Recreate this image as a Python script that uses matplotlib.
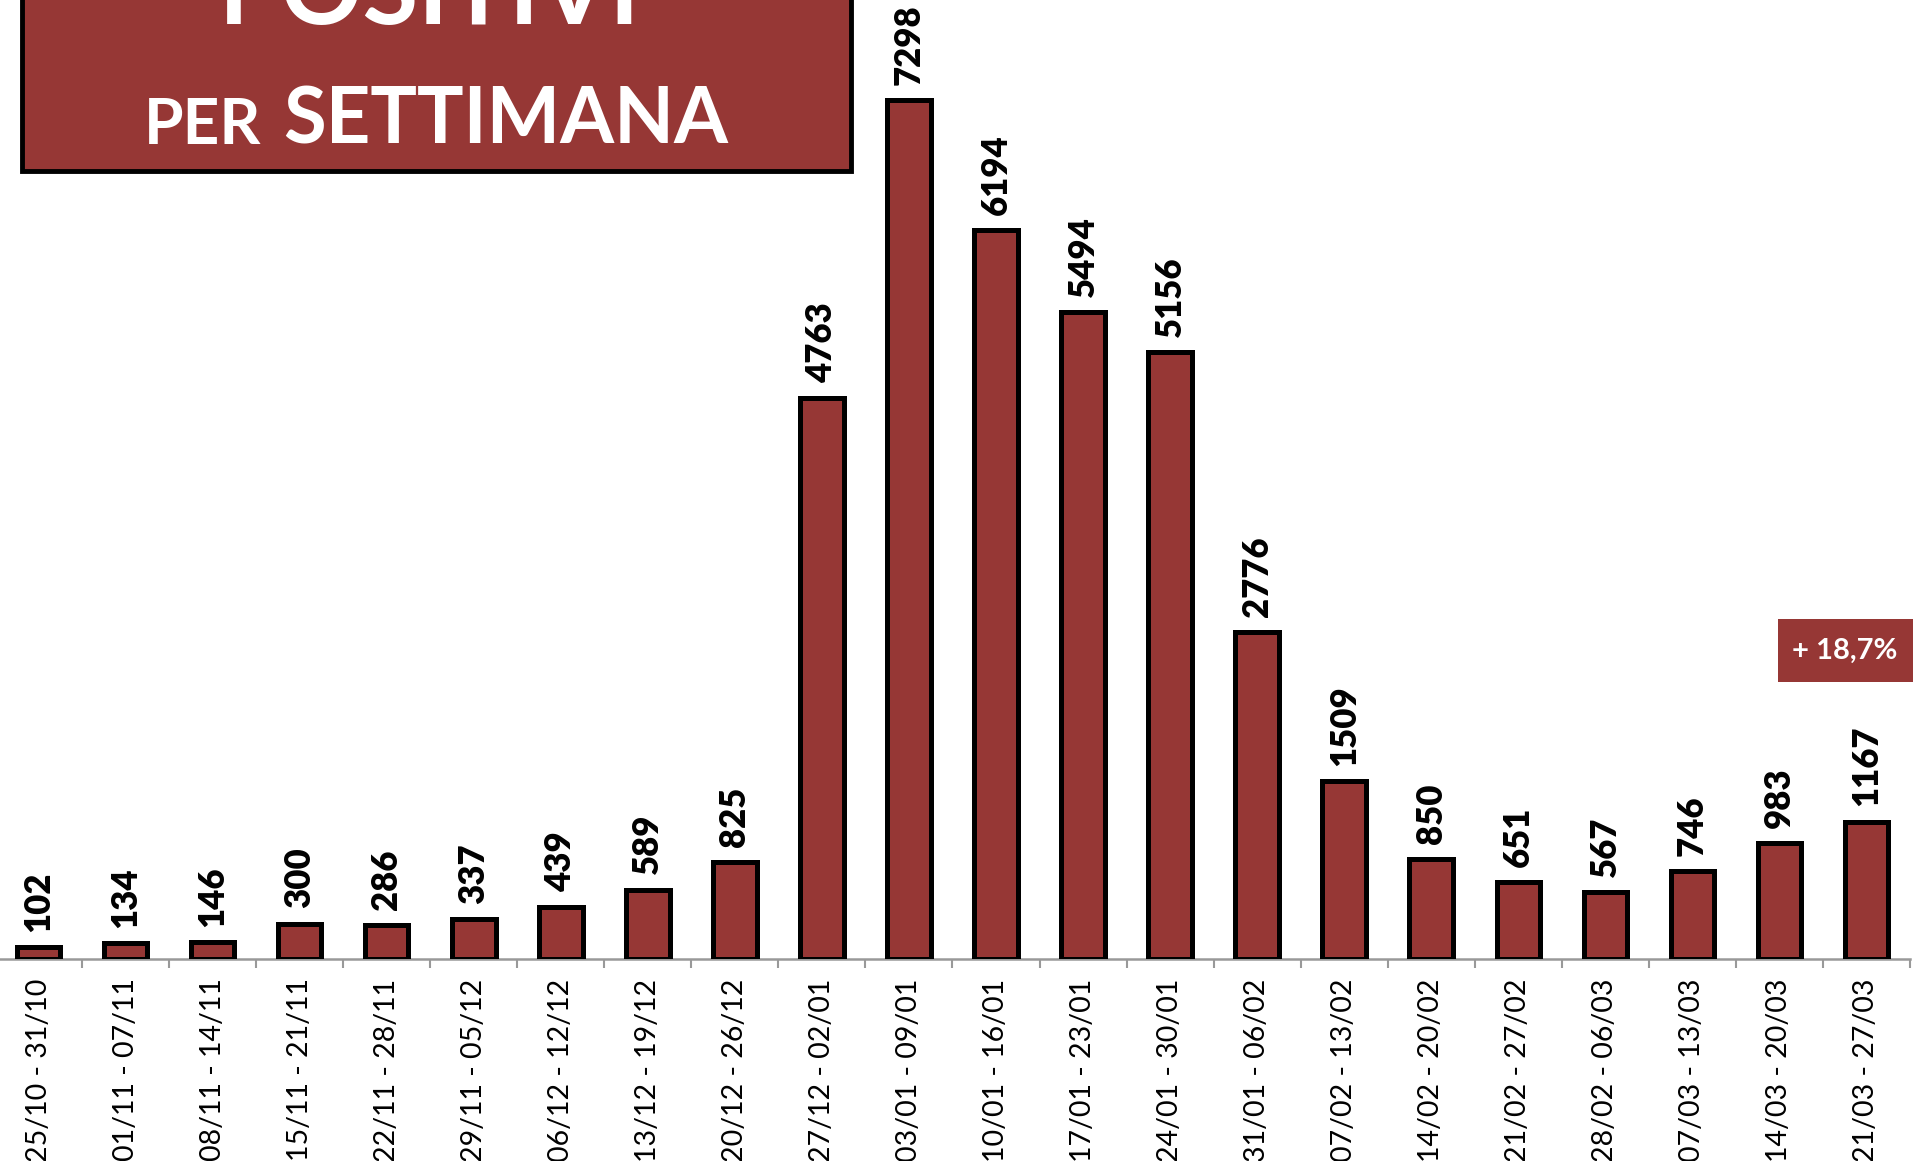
import matplotlib
matplotlib.use("Agg")
import matplotlib.pyplot as plt
from matplotlib.patches import Rectangle
import numpy as np

plt.rcParams['font.family'] = ['Lato', 'DejaVu Sans']

# Dati: positivi per settimana
settimane = ['25/10 - 31/10', '01/11 - 07/11', '08/11 - 14/11', '15/11 - 21/11',
             '22/11 - 28/11', '29/11 - 05/12', '06/12 - 12/12', '13/12 - 19/12',
             '20/12 - 26/12', '27/12 - 02/01', '03/01 - 09/01', '10/01 - 16/01',
             '17/01 - 23/01', '24/01 - 30/01', '31/01 - 06/02', '07/02 - 13/02',
             '14/02 - 20/02', '21/02 - 27/02', '28/02 - 06/03', '07/03 - 13/03',
             '14/03 - 20/03', '21/03 - 27/03']
positivi = [102, 134, 146, 300, 286, 337, 439, 589, 825, 4763, 7298, 6194,
            5494, 5156, 2776, 1509, 850, 651, 567, 746, 983, 1167]
variazione = '+ 18,7%'

rosso = '#963735'
W, H = 1915, 1161

fig = plt.figure(figsize=(W / 100, H / 100), dpi=100)
base = 959
ax = fig.add_axes([-5 / W, (H - base) / H, 1915 / W, base / H])

x = np.arange(len(positivi))
ax.bar(x, positivi, width=0.50, color=rosso, edgecolor='black', linewidth=3.6, zorder=3)

# etichette sopra le barre
for xi, v in zip(x, positivi):
    ax.annotate(str(v), (xi, v), xytext=(0, 11), textcoords='offset points',
                rotation=90, ha='center', va='bottom', fontsize=25,
                fontweight='heavy', color='black')

ax.set_xlim(-0.5, len(positivi) - 0.5)
ax.set_ylim(0, base / 0.1177)

ax.set_xticks(x)
ax.set_xticklabels(settimane, rotation=90, fontsize=20.5, va='top')
ax.tick_params(axis='x', which='major', length=0, pad=14)
ax.set_xticks(np.arange(-0.5, len(positivi)), minor=True)
ax.tick_params(axis='x', which='minor', length=6.5, width=1.5, color='#999999')
ax.set_yticks([])

for s in ['left', 'right', 'top']:
    ax.spines[s].set_visible(False)
ax.spines['bottom'].set_color('#999999')
ax.spines['bottom'].set_linewidth(1.8)

# Riquadro del titolo
fig.patches.append(Rectangle((22 / W, (H - 171) / H), (851 - 22) / W, 250 / H,
                             transform=fig.transFigure, facecolor=rosso,
                             edgecolor='black', linewidth=3.5, zorder=5))
fig.text(430 / W, (H - 24) / H, 'POSITIVI', color='white', fontsize=73,
         fontweight='bold', ha='center', va='baseline', zorder=6)
fig.text(261 / W, (H - 144) / H, 'PER', color='white', fontsize=46,
         fontweight='bold', ha='right', va='baseline', zorder=6)
fig.text(283 / W, (H - 144) / H, 'SETTIMANA', color='white', fontsize=56,
         fontweight='bold', ha='left', va='baseline', zorder=6)

# Riquadro variazione
fig.patches.append(Rectangle((1778 / W, (H - 682) / H), (1913 - 1778) / W, 63 / H,
                             transform=fig.transFigure, facecolor=rosso,
                             edgecolor='none', zorder=5))
fig.text(1845 / W, (H - 651) / H, variazione, color='white', fontsize=21,
         fontweight='bold', ha='center', va='center', zorder=6)

fig.savefig('out.png', dpi=100)
